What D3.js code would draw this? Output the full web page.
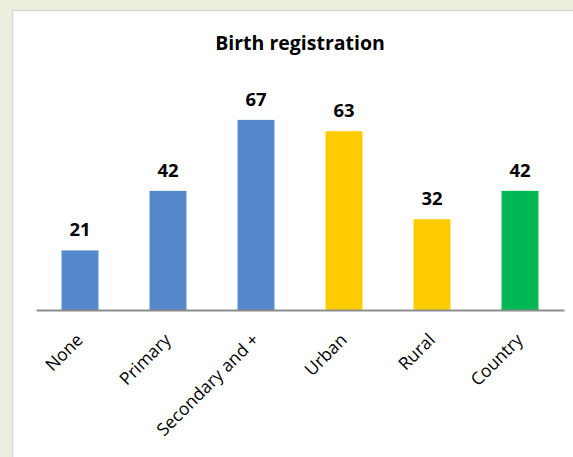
<!DOCTYPE html>
<html>
<head>
<meta charset="utf-8">
<script src="https://cdn.jsdelivr.net/npm/d3@7"></script>
<style>
  body { margin: 0; background: #ebf1de; }
  svg { display: block; }
</style>
</head>
<body>
<div id="chart"></div>
<script>
// Data
const categories = ["None", "Primary", "Secondary and +", "Urban", "Rural", "Country"];
const values = [21, 42, 67, 63, 32, 42];
const colors = ["#5589cb", "#5589cb", "#5589cb", "#ffcc00", "#ffcc00", "#00b853"];

const w = 573;
const h = 457;
const margin = {top: 83, right: 9, bottom: 147, left: 36};

const svg = d3.select("#chart")
  .append("svg")
  .attr("width", w)
  .attr("height", h);

// white chart panel
svg.append("rect")
  .attr("x", 12.5)
  .attr("y", 10.5)
  .attr("width", w)
  .attr("height", h)
  .attr("fill", "white")
  .attr("stroke", "#d9d9d9")
  .attr("stroke-width", 1.5);

const xScale = d3.scaleBand()
  .domain(categories)
  .range([margin.left, w - margin.right])
  .paddingInner(0.58)
  .paddingOuter(0.29);

const yScale = d3.scaleLinear()
  .domain([0, 80])
  .range([h - margin.bottom, margin.top]);

// title
svg.append("text")
  .attr("x", 300)
  .attr("y", 50)
  .attr("text-anchor", "middle")
  .attr("font-family", "Open Sans")
  .attr("font-weight", "bold")
  .attr("font-size", "19.5px")
  .attr("fill", "#000")
  .text("Birth registration");

// bars
svg.selectAll(".bar")
  .data(values)
  .enter()
  .append("rect")
  .attr("class", "bar")
  .attr("x", (d, i) => xScale(categories[i]))
  .attr("y", (d) => yScale(d))
  .attr("width", xScale.bandwidth())
  .attr("height", (d) => yScale(0) - yScale(d))
  .attr("fill", (d, i) => colors[i]);

// value labels
svg.selectAll(".barText")
  .data(values)
  .enter()
  .append("text")
  .attr("class", "barText")
  .attr("x", (d, i) => xScale(categories[i]) + xScale.bandwidth() / 2)
  .attr("y", (d) => yScale(d) - 14)
  .attr("text-anchor", "middle")
  .attr("font-family", "Open Sans")
  .attr("font-weight", "bold")
  .attr("font-size", "18.5px")
  .text((d) => d);

// x axis
const xAxis = d3.axisBottom(xScale).tickSize(0).tickPadding(0);
const gx = svg.append("g")
  .attr("transform", "translate(0," + yScale(0) + ")")
  .call(xAxis);

gx.select(".domain")
  .attr("stroke", "#8c8c8c")
  .attr("stroke-width", 2);

gx.selectAll("text")
  .attr("font-family", "Open Sans")
  .attr("font-size", "17.5px")
  .attr("fill", "#000")
  .attr("text-anchor", "end")
  .attr("dy", 0)
  .attr("transform", "translate(4,31) rotate(-45)");
</script>
</body>
</html>
